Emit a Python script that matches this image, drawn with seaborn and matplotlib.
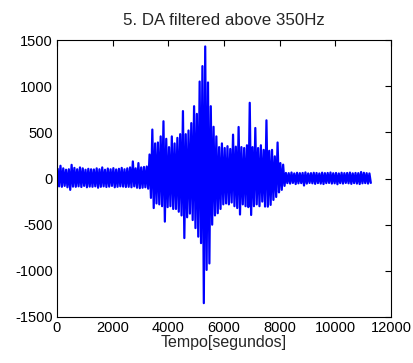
import numpy as np
import pandas as pd
import matplotlib
matplotlib.use("Agg")
import matplotlib.pyplot as plt
import seaborn as sns

# Per-window (100 s) signal extremes
window_start = list(range(0, 11300, 100))
window_max = [105, 138, 110, 95, 100, 148, 115, 100, 120, 110, 95, 105, 100, 98, 110, 100,
              120, 95, 108, 100, 112, 98, 105, 115, 100, 110, 120, 185, 110, 167, 120, 125, 130,
              260, 530, 380, 390, 456, 620, 430, 340, 456, 380, 440, 480, 730, 480, 520, 600,
              783, 700, 1050, 1217, 1430, 1040, 783, 560, 456, 340, 380, 330, 350, 320, 475,
              345, 558, 340, 330, 360, 820, 340, 547, 330, 360, 310, 630, 300, 310, 240, 390,
              167, 150,
              60, 58, 65, 55, 62, 58, 60, 66, 55, 58, 62, 60, 55, 63, 58, 60, 65, 57, 60, 55,
              62, 58, 60, 64, 56, 60, 58, 70, 62, 58, 55]
window_min = [-85, -90, -80, -95, -123, -88, -90, -85, -92, -80, -95, -88, -90, -85, -100, -90,
              -85, -92, -88, -80, -95, -90, -85, -88, -92, -90, -95, -85, -100, -105, -100, -95, -110,
              -210, -320, -270, -280, -300, -467, -310, -300, -330, -330, -360, -400, -645, -420,
              -380, -450, -537, -630, -700, -1350, -990, -920, -500, -400, -376, -330, -280, -270,
              -280, -260, -300, -320, -390, -280, -300, -310, -395, -300, -280, -300, -250, -304,
              -305, -286, -232, -200, -150, -123, -80,
              -50, -55, -48, -60, -52, -50, -76, -55, -48, -52, -58, -50, -55, -60, -50, -48,
              -55, -52, -62, -50, -55, -48, -52, -58, -50, -55, -60, -52, -50, -55, -48]

x_ticks = [0, 2000, 4000, 6000, 8000, 10000, 12000]
y_ticks = [-1500, -1000, -500, 0, 500, 1000, 1500]
title = "5. DA filtered above 350Hz"
xlabel = "Tempo[segundos]"

xs, ys = [], []
for s, hi, lo in zip(window_start, window_max, window_min):
    xs += [s + 25, s + 75]
    ys += [hi, lo]
df = pd.DataFrame({"t": xs, "v": ys})

sns.set_style("white")
plt.rcParams["font.family"] = ["Liberation Sans", "DejaVu Sans"]
plt.rcParams["path.simplify"] = False

fig = plt.figure(figsize=(4.14, 3.63), dpi=100)
ax = fig.add_axes([57 / 414, 1 - 317 / 363, (391 - 57) / 414, (317 - 40) / 363])
sns.lineplot(data=df, x="t", y="v", sort=False, estimator=None, color="#0000ff",
             linewidth=1.6, ax=ax)

ax.set_xlim(0, 12000)
ax.set_ylim(-1500, 1500)
ax.set_xticks(x_ticks)
ax.set_yticks(y_ticks)
ax.set_xticklabels([str(v) for v in x_ticks])
ax.set_yticklabels([str(v) for v in y_ticks])
ax.tick_params(direction="in", length=4, width=0.8, top=True, right=True,
               labelsize=10.5, colors="black", pad=3)
for sp in ax.spines.values():
    sp.set_color("black")
    sp.set_linewidth(0.8)
ax.set_xlabel(xlabel, fontsize=11.5, labelpad=0)
ax.set_ylabel("")
ax.set_title(title, fontsize=12.2, pad=11)

fig.savefig("out.png", dpi=100)
